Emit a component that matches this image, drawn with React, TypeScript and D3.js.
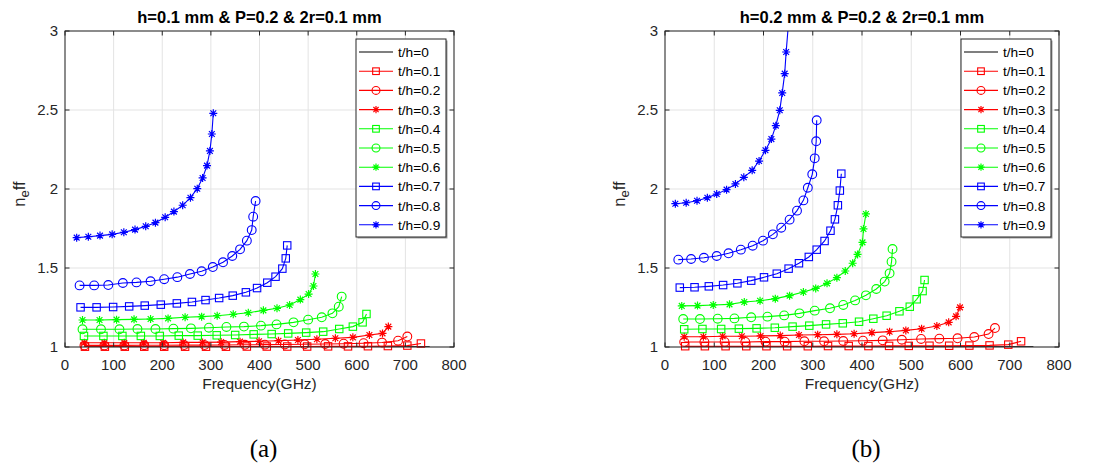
import React from 'react';
import * as d3 from 'd3';

// ---------- axes ----------
const freqTicks = [0, 100, 200, 300, 400, 500, 600, 700, 800];
const neffTicks = [1, 1.5, 2, 2.5, 3];
const legendLabels = ['t/h=0', 't/h=0.1', 't/h=0.2', 't/h=0.3', 't/h=0.4', 't/h=0.5', 't/h=0.6', 't/h=0.7', 't/h=0.8', 't/h=0.9'];
const seriesColors = ['#000000', '#ff0000', '#ff0000', '#ff0000', '#00ff00', '#00ff00', '#00ff00', '#0000ff', '#0000ff', '#0000ff'];
const seriesMarkers = ['none', 'square', 'circle', 'star', 'square', 'circle', 'star', 'square', 'circle', 'star'];
const titles = ['h=0.1 mm & P=0.2 & 2r=0.1 mm', 'h=0.2 mm & P=0.2 & 2r=0.1 mm'];
const panelLetters = ['(a)', '(b)'];

// ---------- panel (a): h = 0.1 mm ----------
const a00f = [40, 100, 200, 300, 400, 500, 600, 700, 750];
const a00n = [1.001, 1.001, 1.001, 1.001, 1.001, 1.001, 1.001, 1.001, 1.001];
const a01f = [41, 82, 123, 163, 204, 247, 290, 331, 374, 415, 457, 498, 541, 582, 623, 664, 704, 732];
const a01n = [1.002, 1.002, 1.002, 1.002, 1.002, 1.002, 1.002, 1.002, 1.003, 1.003, 1.003, 1.003, 1.004, 1.004, 1.005, 1.006, 1.009, 1.022];
const a02f = [40, 81, 122, 163, 204, 245, 287, 328, 370, 411, 452, 493, 535, 573, 614, 652, 685, 704];
const a02n = [1.010, 1.010, 1.010, 1.011, 1.011, 1.012, 1.012, 1.013, 1.014, 1.015, 1.016, 1.017, 1.019, 1.021, 1.024, 1.028, 1.040, 1.066];
const a03f = [40, 81, 122, 162, 202, 243, 283, 321, 360, 399, 439, 479, 518, 556, 592, 626, 653, 665];
const a03n = [1.027, 1.027, 1.027, 1.027, 1.027, 1.029, 1.029, 1.031, 1.034, 1.036, 1.040, 1.044, 1.049, 1.055, 1.061, 1.076, 1.086, 1.129];
const a04f = [39, 79, 118, 156, 195, 234, 273, 312, 350, 388, 425, 459, 496, 531, 564, 592, 612, 620];
const a04n = [1.070, 1.070, 1.070, 1.070, 1.070, 1.072, 1.072, 1.074, 1.076, 1.080, 1.082, 1.086, 1.091, 1.097, 1.114, 1.129, 1.156, 1.209];
const a05f = [36, 74, 112, 149, 186, 223, 259, 296, 332, 368, 403, 435, 470, 500, 528, 550, 563, 569];
const a05n = [1.112, 1.112, 1.112, 1.114, 1.114, 1.116, 1.118, 1.122, 1.127, 1.129, 1.135, 1.143, 1.156, 1.173, 1.188, 1.213, 1.255, 1.319];
const a06f = [36, 71, 106, 142, 176, 212, 247, 281, 313, 346, 377, 408, 436, 462, 484, 501, 511, 515];
const a06n = [1.171, 1.171, 1.173, 1.175, 1.177, 1.181, 1.188, 1.192, 1.198, 1.207, 1.217, 1.232, 1.245, 1.266, 1.300, 1.335, 1.386, 1.462];
const a07f = [32, 65, 99, 132, 164, 197, 230, 261, 289, 317, 345, 372, 395, 416, 433, 447, 454, 457];
const a07n = [1.251, 1.251, 1.253, 1.257, 1.262, 1.268, 1.276, 1.285, 1.297, 1.310, 1.325, 1.346, 1.373, 1.407, 1.445, 1.496, 1.561, 1.643];
const a08f = [30, 60, 89, 119, 147, 176, 204, 231, 257, 281, 304, 325, 344, 360, 374, 384, 387, 392];
const a08n = [1.390, 1.390, 1.392, 1.405, 1.409, 1.416, 1.429, 1.442, 1.462, 1.479, 1.506, 1.536, 1.576, 1.618, 1.673, 1.740, 1.825, 1.924];
const a09f = [24, 48, 72, 97, 121, 144, 166, 186, 206, 224, 242, 258, 272, 283, 292, 298, 302, 305];
const a09n = [1.692, 1.698, 1.705, 1.713, 1.726, 1.743, 1.764, 1.787, 1.821, 1.857, 1.897, 1.945, 2.002, 2.070, 2.148, 2.241, 2.348, 2.479];

// ---------- panel (b): h = 0.2 mm ----------
const b00f = [40, 100, 200, 300, 400, 500, 600, 700, 748];
const b00n = [1.001, 1.001, 1.001, 1.001, 1.001, 1.001, 1.001, 1.001, 1.001];
const b01f = [41, 81, 123, 165, 206, 248, 290, 331, 373, 413, 455, 495, 537, 577, 618, 659, 697, 723];
const b01n = [1.005, 1.005, 1.005, 1.005, 1.005, 1.005, 1.005, 1.006, 1.006, 1.006, 1.007, 1.007, 1.008, 1.008, 1.009, 1.010, 1.015, 1.036];
const b02f = [39, 80, 121, 163, 204, 243, 283, 323, 362, 402, 442, 481, 520, 557, 594, 628, 657, 670];
const b02n = [1.032, 1.032, 1.032, 1.032, 1.034, 1.034, 1.036, 1.036, 1.038, 1.040, 1.042, 1.046, 1.051, 1.053, 1.055, 1.063, 1.082, 1.120];
const b03f = [39, 78, 117, 156, 194, 234, 272, 310, 349, 384, 420, 456, 489, 521, 552, 576, 591, 599];
const b03n = [1.065, 1.065, 1.068, 1.068, 1.070, 1.072, 1.076, 1.078, 1.080, 1.084, 1.091, 1.097, 1.105, 1.116, 1.133, 1.156, 1.194, 1.251];
const b04f = [39, 76, 114, 150, 186, 223, 259, 293, 327, 361, 394, 423, 450, 476, 497, 511, 523, 527];
const b04n = [1.112, 1.114, 1.114, 1.116, 1.118, 1.122, 1.129, 1.135, 1.143, 1.150, 1.160, 1.179, 1.198, 1.226, 1.255, 1.302, 1.354, 1.424];
const b05f = [37, 71, 107, 141, 175, 208, 242, 273, 304, 335, 362, 386, 408, 429, 446, 456, 460, 462];
const b05n = [1.177, 1.177, 1.179, 1.181, 1.188, 1.192, 1.200, 1.213, 1.230, 1.245, 1.266, 1.295, 1.327, 1.367, 1.414, 1.466, 1.540, 1.620];
const b06f = [34, 66, 98, 131, 161, 193, 224, 253, 281, 306, 329, 349, 366, 381, 391, 401, 403, 408];
const b06n = [1.260, 1.262, 1.266, 1.270, 1.285, 1.293, 1.306, 1.325, 1.348, 1.371, 1.403, 1.439, 1.481, 1.530, 1.586, 1.662, 1.747, 1.842];
const b07f = [30, 60, 89, 118, 147, 175, 201, 227, 251, 272, 292, 308, 324, 336, 345, 351, 355, 358];
const b07n = [1.376, 1.378, 1.384, 1.392, 1.403, 1.420, 1.441, 1.464, 1.496, 1.530, 1.570, 1.616, 1.671, 1.736, 1.808, 1.897, 1.990, 2.097];
const b08f = [27, 53, 79, 105, 129, 154, 178, 199, 219, 236, 253, 268, 281, 290, 299, 304, 307, 308];
const b08n = [1.553, 1.557, 1.565, 1.576, 1.593, 1.616, 1.641, 1.673, 1.713, 1.755, 1.806, 1.863, 1.928, 2.008, 2.093, 2.194, 2.302, 2.435];
const b09f = [21, 43, 65, 86, 105, 125, 143, 160, 177, 191, 204, 216, 225, 233, 238, 243, 246, 250];
const b09n = [1.907, 1.913, 1.926, 1.945, 1.968, 1.996, 2.032, 2.074, 2.118, 2.177, 2.245, 2.316, 2.401, 2.498, 2.608, 2.730, 2.867, 3.020];

const panelAF = [a00f, a01f, a02f, a03f, a04f, a05f, a06f, a07f, a08f, a09f];
const panelAN = [a00n, a01n, a02n, a03n, a04n, a05n, a06n, a07n, a08n, a09n];
const panelBF = [b00f, b01f, b02f, b03f, b04f, b05f, b06f, b07f, b08f, b09f];
const panelBN = [b00n, b01n, b02n, b03n, b04n, b05n, b06n, b07n, b08n, b09n];

const AXIS = '#262626';
const GRID = '#e3e3e3';
const SANS = '"Liberation Sans", Arial, Helvetica, sans-serif';

function Marker({ kind, x, y, color, scale = 1 }: { kind: string; x: number; y: number; color: string; scale?: number }) {
  if (kind === 'square') {
    const s = 7.4 * scale;
    return <rect x={x - s / 2} y={y - s / 2} width={s} height={s} fill="none" stroke={color} strokeWidth={1.1} />;
  }
  if (kind === 'circle') {
    return <circle cx={x} cy={y} r={4.4 * scale} fill="none" stroke={color} strokeWidth={1.1} />;
  }
  if (kind === 'star') {
    const r = 4.0 * scale;
    const d = r * 0.72;
    const p = `M${x - r},${y}L${x + r},${y}M${x},${y - r}L${x},${y + r}M${x - d},${y - d}L${x + d},${y + d}M${x - d},${y + d}L${x + d},${y - d}`;
    return <path d={p} stroke={color} strokeWidth={1.2} fill="none" />;
  }
  return null;
}

function Panel({ idx, left, right, fs, ns }: { idx: number; left: number; right: number; fs: number[][]; ns: number[][] }) {
  const top = 31;
  const bottom = 347;
  const x = d3.scaleLinear().domain([0, 800]).range([left, right]);
  const y = d3.scaleLinear().domain([1, 3]).range([bottom, top]);
  const line = d3.line<[number, number]>().x((d) => x(d[0])).y((d) => y(d[1]));
  const clipId = `clip${idx}`;
  const tl = 4.5;
  const cx = (left + right) / 2;
  const legX = right - 98;
  const legY = 39;
  const legW = 90;
  const legH = 198;
  return (
    <g>
      <defs>
        <clipPath id={clipId}>
          <rect x={left} y={top} width={right - left} height={bottom - top} />
        </clipPath>
      </defs>
      <rect x={left} y={top} width={right - left} height={bottom - top} fill="#fff" />
      {freqTicks.map((t) => (
        <line key={'gx' + t} x1={x(t)} x2={x(t)} y1={top} y2={bottom} stroke={GRID} strokeWidth={1} />
      ))}
      {neffTicks.map((t) => (
        <line key={'gy' + t} x1={left} x2={right} y1={y(t)} y2={y(t)} stroke={GRID} strokeWidth={1} />
      ))}
      <g clipPath={`url(#${clipId})`}>
        {fs.map((f, i) => {
          const pts = f.map((v, j) => [v, ns[i][j]] as [number, number]);
          return <path key={'l' + i} d={line(pts) || ''} fill="none" stroke={seriesColors[i]} strokeWidth={1.1} />;
        })}
      </g>
      {fs.map((f, i) =>
        f.map((v, j) =>
          ns[i][j] <= 3 ? <Marker key={`m${i}_${j}`} kind={seriesMarkers[i]} x={x(v)} y={y(ns[i][j])} color={seriesColors[i]} /> : null
        )
      )}
      <rect x={left} y={top} width={right - left} height={bottom - top} fill="none" stroke={AXIS} strokeWidth={1} />
      {freqTicks.map((t) => (
        <g key={'tx' + t}>
          <line x1={x(t)} x2={x(t)} y1={bottom} y2={bottom - tl} stroke={AXIS} />
          <line x1={x(t)} x2={x(t)} y1={top} y2={top + tl} stroke={AXIS} />
          <text x={x(t)} y={370} textAnchor="middle" fontSize={15} fill={AXIS} fontFamily={SANS}>{t}</text>
        </g>
      ))}
      {neffTicks.map((t) => (
        <g key={'ty' + t}>
          <line x1={left} x2={left + tl} y1={y(t)} y2={y(t)} stroke={AXIS} />
          <line x1={right} x2={right - tl} y1={y(t)} y2={y(t)} stroke={AXIS} />
          <text x={left - 7} y={y(t) + 5} textAnchor="end" fontSize={15} fill={AXIS} fontFamily={SANS}>{t}</text>
        </g>
      ))}
      <text x={cx} y={23} textAnchor="middle" fontSize={16.5} fontWeight="bold" fill="#000" fontFamily={SANS}>{titles[idx]}</text>
      <text x={cx} y={389} textAnchor="middle" fontSize={15.5} fill={AXIS} fontFamily={SANS}>Frequency(GHz)</text>
      <text transform={`translate(${left - 40},194) rotate(-90)`} textAnchor="middle" fontSize={16.5} fill={AXIS} fontFamily={SANS}>
        n<tspan dy={4} fontSize={13}>e</tspan><tspan dy={-4}>ff</tspan>
      </text>
      {/* legend */}
      <rect x={legX + 1.5} y={legY + 1.5} width={legW} height={legH} fill="#9a9a9a" />
      <rect x={legX} y={legY} width={legW} height={legH} fill="#fff" stroke={AXIS} strokeWidth={1} />
      {legendLabels.map((lab, i) => {
        const ry = 52 + i * 19.2;
        return (
          <g key={'lg' + i}>
            <line x1={legX + 3} x2={legX + 37} y1={ry} y2={ry} stroke={seriesColors[i]} strokeWidth={1.1} />
            <Marker kind={seriesMarkers[i]} x={legX + 20} y={ry} color={seriesColors[i]} scale={0.9} />
            <text x={legX + 42} y={ry + 5} fontSize={13.7} fill="#000" fontFamily={SANS}>{lab}</text>
          </g>
        );
      })}
      <text x={cx + 4} y={457} textAnchor="middle" fontSize={25} fill="#000" fontFamily='"Liberation Serif", "Times New Roman", serif'>{panelLetters[idx]}</text>
    </g>
  );
}

export default function App() {
  return (
    <svg width={1095} height={467} style={{ position: 'absolute', left: 0, top: 0, background: '#fff' }}>
      <rect x={0} y={0} width={1095} height={467} fill="#fff" />
      <Panel idx={0} left={65} right={454} fs={panelAF} ns={panelAN} />
      <Panel idx={1} left={665} right={1059} fs={panelBF} ns={panelBN} />
    </svg>
  );
}
